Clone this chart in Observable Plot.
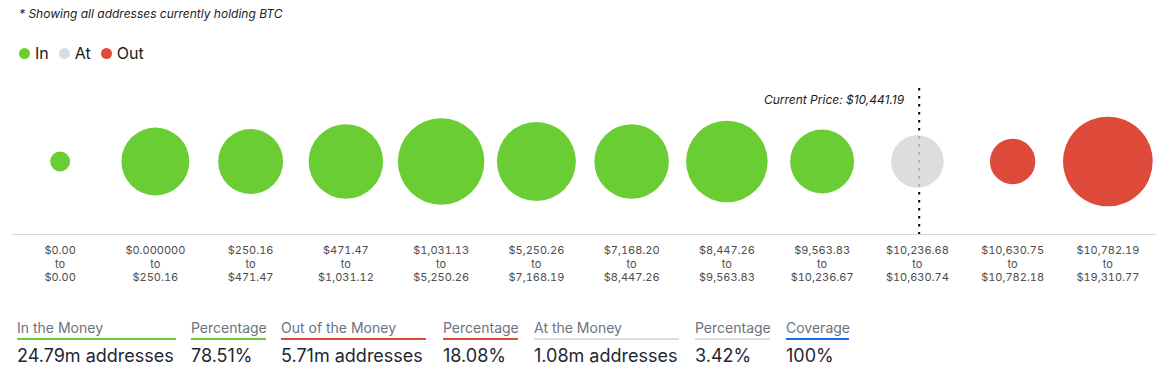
<!DOCTYPE html>
<html>
<head>
<meta charset="utf-8">
<script src="https://cdn.jsdelivr.net/npm/d3@7"></script>
<script src="https://cdn.jsdelivr.net/npm/@observablehq/plot@0.6"></script>
<style>
  html, body { margin: 0; padding: 0; background: #fff; }
  body { font-family: Inter, "Noto Sans", sans-serif; }
  #root { position: relative; width: 1170px; height: 385px; overflow: hidden; }
  #note { position: absolute; left: 19px; top: 6px; font-size: 12px; font-style: italic; color: #222; }
  #legend { position: absolute; left: 19px; top: 43px; display: flex; align-items: center; font-size: 16px; color: #1a1a1a; }
  #legend .item { display: flex; align-items: center; margin-right: 10px; }
  #legend .sw { width: 11px; height: 11px; border-radius: 50%; margin-right: 5px; }
  #chart { position: absolute; left: 0; top: 80px; }
  .col { position: absolute; top: 319px; }
  .col .lab { font-size: 14px; color: #6b7280; padding-bottom: 2px; border-bottom: 2px solid; line-height: 17px; white-space: nowrap; }
  .col .val { font-size: 18px; color: #1f2733; margin-top: 5px; line-height: 22px; white-space: nowrap; }
</style>
</head>
<body>
<div id="root">
  <div id="note">* Showing all addresses currently holding BTC</div>
  <div id="legend"></div>
  <div id="chart"></div>
</div>
<script>
// ---- data ----
const fromLabels = ["$0.00","$0.000000","$250.16","$471.47","$1,031.13","$5,250.26","$7,168.20","$8,447.26","$9,563.83","$10,236.68","$10,630.75","$10,782.19"];
const toLabels   = ["$0.00","$250.16","$471.47","$1,031.12","$5,250.26","$7,168.19","$8,447.26","$9,563.83","$10,236.67","$10,630.74","$10,782.18","$19,310.77"];
const fromValues = [0, 0, 250.16, 471.47, 1031.13, 5250.26, 7168.20, 8447.26, 9563.83, 10236.68, 10630.75, 10782.19];
const toValues   = [0, 250.16, 471.47, 1031.12, 5250.26, 7168.19, 8447.26, 9563.83, 10236.67, 10630.74, 10782.18, 19310.77];
// addresses (millions)
const addresses  = [0.22, 2.55, 2.33, 3.07, 4.14, 3.45, 3.07, 3.68, 2.26, 1.53, 1.14, 4.44];
const status     = ["In","In","In","In","In","In","In","In","In","At","Out","Out"];
const currentPrice = 10441.19;

const statuses = ["In","At","Out"];
const statusColors = ["#6acd33","#dfdfdf","#dd4a3a"];

const statLabels = ["In the Money","Percentage","Out of the Money","Percentage","At the Money","Percentage","Coverage"];
const statValues = ["24.79m addresses","78.51%","5.71m addresses","18.08%","1.08m addresses","3.42%","100%"];
const statColors = ["#6acd33","#6acd33","#dd4a3a","#dd4a3a","#dcdcdc","#dcdcdc","#1a6ee8"];

// ---- build ----
const data = addresses.map((v, i) => ({i, pos: i + 0.5, value: v, status: status[i]}));
const priceBand = fromValues.findIndex((f, i) => currentPrice >= f && currentPrice <= toValues[i] && toValues[i] > f);
const pricePos = priceBand + (currentPrice - fromValues[priceBand]) / (toValues[priceBand] - fromValues[priceBand]);

const chart = Plot.plot({
  width: 1170,
  height: 210,
  marginLeft: 12,
  marginRight: 15,
  marginTop: 8,
  marginBottom: 56,
  style: {fontFamily: "Inter, 'Noto Sans', sans-serif", background: "transparent"},
  x: {type: "linear", domain: [0, fromLabels.length], axis: null},
  r: {type: "sqrt", domain: [0, d3.max(addresses)], range: [0, 44.8]},
  color: {domain: statuses, range: statusColors},
  marks: [
    Plot.frame({anchor: "bottom", stroke: "#d3d8e0", strokeWidth: 1}),
    Plot.dot(data.filter(d => d.status !== "At"), {x: "pos", r: "value", fill: "status", stroke: null}),
    Plot.ruleX([pricePos], {stroke: "#000", strokeWidth: 2, strokeDasharray: "2.5,5.5"}),
    Plot.dot(data.filter(d => d.status === "At"), {x: "pos", r: "value", fill: "#d6d6d6", fillOpacity: 0.82}),
    Plot.text([pricePos], {x: d => d, frameAnchor: "top", dy: 7, dx: -15, textAnchor: "end",
      text: () => "Current Price: $" + d3.format(",.2f")(currentPrice), fontSize: 12, fontStyle: "italic", fill: "#1a1a1a"}),
    Plot.axisX(data.map(d => d.pos), {
      label: null, tickSize: 0, tickPadding: 10, fontSize: 11, lineHeight: 1.24, fill: "#4d4d4d",
      tickFormat: v => fromLabels[Math.floor(v)] + "\nto\n" + toLabels[Math.floor(v)]
    })
  ]
});
document.getElementById("chart").appendChild(chart);

// legend
const legend = document.getElementById("legend");
statuses.forEach((s, k) => {
  const it = document.createElement("div");
  it.className = "item";
  it.innerHTML = `<span class="sw" style="background:${k === 1 ? "#dcdcdc" : statusColors[k]}"></span><span>${s}</span>`;
  legend.appendChild(it);
});

// stats
const root = document.getElementById("root");
const statLefts = [17, 191, 281, 443, 534, 695, 786];
const statWidths = [159, 75, 145, 75, 145, 75, 63];
statLabels.forEach((l, k) => {
  const c = document.createElement("div");
  c.className = "col";
  c.style.left = statLefts[k] + "px";
  c.style.width = statWidths[k] + "px";
  c.innerHTML = `<div class="lab" style="border-color:${statColors[k]}">${l}</div><div class="val">${statValues[k]}</div>`;
  root.appendChild(c);
});
</script>
</body>
</html>
